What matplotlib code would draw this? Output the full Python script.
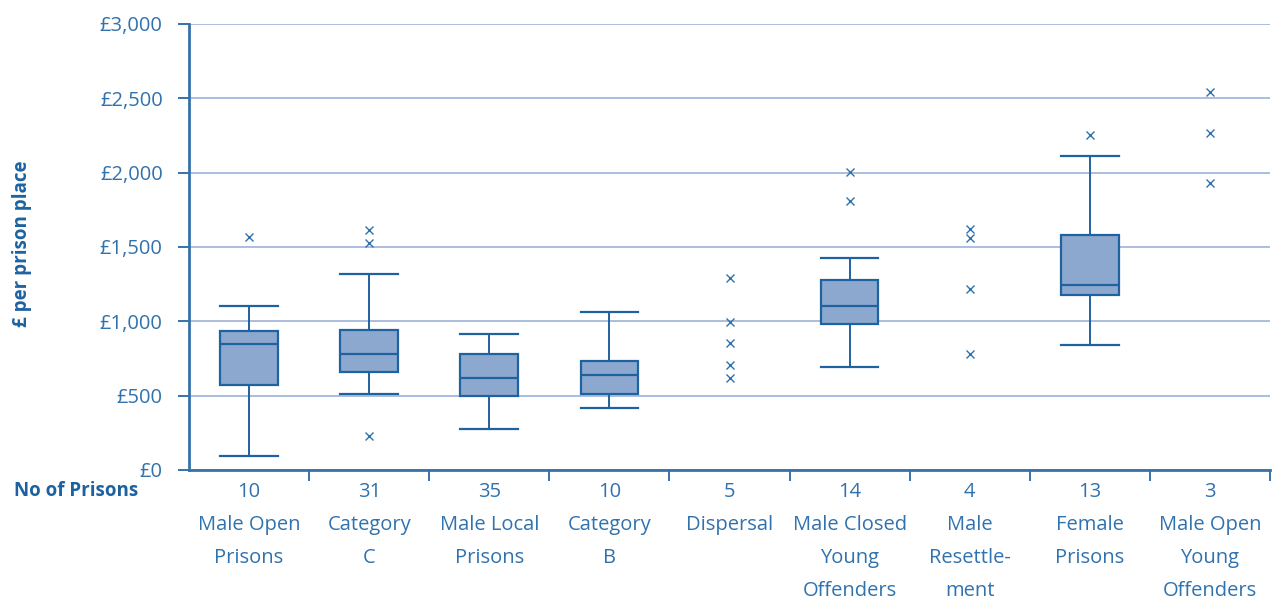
import numpy as np
import matplotlib
matplotlib.use("Agg")
import matplotlib.pyplot as plt
from matplotlib.ticker import FuncFormatter

plt.rcParams['font.family'] = ['Open Sans', 'DejaVu Sans']

# data
categories = ["Male Open\nPrisons", "Category\nC", "Male Local\nPrisons", "Category\nB",
              "Dispersal", "Male Closed\nYoung\nOffenders", "Male\nResettle-\nment",
              "Female\nPrisons", "Male Open\nYoung\nOffenders"]
n_prisons = [10, 31, 35, 10, 5, 14, 4, 13, 3]
whis_lo = [96, 512, 274, 420, None, 690, None, 838, None]
q1 = [572, 658, 497, 509, None, 983, None, 1178, None]
median = [846, 783, 619, 640, None, 1100, None, 1244, None]
q3 = [933, 943, 779, 736, None, 1281, None, 1578, None]
whis_hi = [1103, 1316, 913, 1062, None, 1428, None, 2110, None]
outliers = [[1564], [1614, 1527, 230], [], [], [1290, 993, 855, 705, 620],
            [2002, 1808], [1623, 1559, 1220, 783], [2255], [2545, 2268, 1933]]

# colours
c_text = '#2f72ae'
c_bold = '#1d62a0'
c_edge = '#1f62a0'
c_fill = '#8da8cf'
c_grid = '#9db3d6'
c_spine = '#3672aa'

fig = plt.figure(figsize=(12.79, 5.99), dpi=100)
ax = fig.add_axes([0.1478, 0.2154, 0.8452, 0.7446])

# boxes
stats, pos = [], []
for i in range(len(categories)):
    if q1[i] is None:
        continue
    stats.append({'whislo': whis_lo[i], 'q1': q1[i], 'med': median[i],
                  'q3': q3[i], 'whishi': whis_hi[i], 'fliers': []})
    pos.append(i)

ax.bxp(stats, positions=pos, widths=0.48, capwidths=0.48, patch_artist=True,
       showfliers=False, manage_ticks=False,
       boxprops=dict(facecolor=c_fill, edgecolor=c_edge, linewidth=1.6),
       whiskerprops=dict(color=c_edge, linewidth=1.4),
       capprops=dict(color=c_edge, linewidth=1.6),
       medianprops=dict(color=c_edge, linewidth=1.6))

# outliers
for i, vals in enumerate(outliers):
    if vals:
        ax.plot([i] * len(vals), vals, linestyle='none', marker='x',
                markersize=6, markeredgewidth=1.0, color=c_text)

ax.set_xlim(-0.5, 8.5)
ax.set_ylim(0, 3000)
ax.set_yticks(np.arange(0, 3001, 500))
ax.yaxis.set_major_formatter(FuncFormatter(lambda v, p: f"£{int(v):,}"))
ax.yaxis.grid(True, color=c_grid, linewidth=1.2)
ax.set_axisbelow(True)

ax.set_xticks(range(len(categories)))
ax.set_xticklabels([f"{n}\n{c}" for n, c in zip(n_prisons, categories)],
                   linespacing=1.85, va='top')
ax.set_xticks(np.arange(0.5, len(categories), 1.0), minor=True)

ax.tick_params(axis='x', which='major', length=0, pad=9, labelsize=14.5, labelcolor=c_text)
ax.tick_params(axis='x', which='minor', length=8, width=1.4, color=c_spine, direction='out')
ax.tick_params(axis='y', length=8, width=1.4, color=c_spine, pad=11,
               labelsize=14.5, labelcolor=c_text)

for s in ['top', 'right']:
    ax.spines[s].set_visible(False)
for s in ['left', 'bottom']:
    ax.spines[s].set_color(c_spine)
    ax.spines[s].set_linewidth(2)

fig.text(0.017, 1 - 244 / 599, "£ per prison place", rotation=90, ha='center', va='center',
         fontsize=13.5, fontweight='bold', color=c_bold)
fig.text(14 / 1279, 1 - 491 / 599, "No of Prisons", ha='left', va='center',
         fontsize=13.5, fontweight='bold', color=c_bold)

plt.savefig("out.png", dpi=100)
